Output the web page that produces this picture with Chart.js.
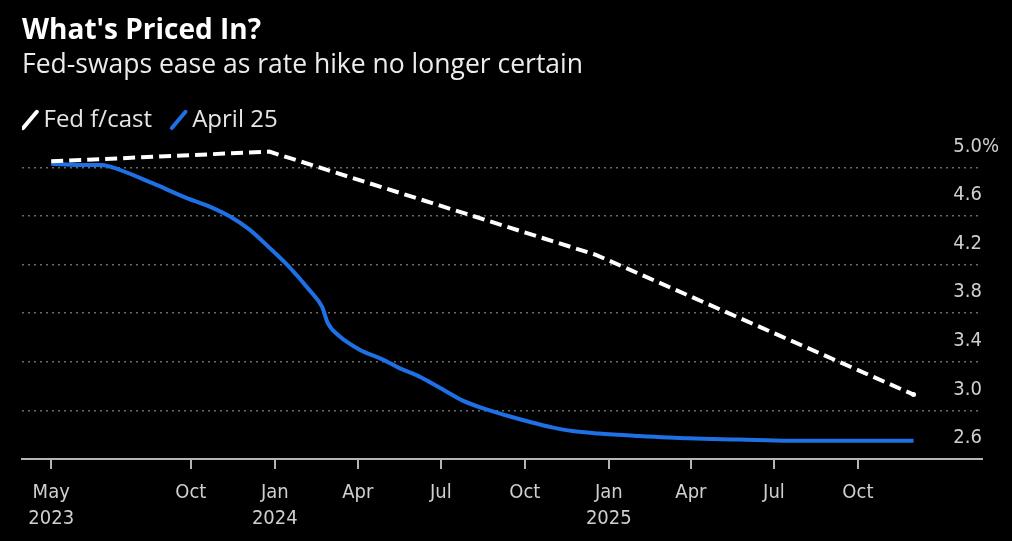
<!DOCTYPE html>
<html>
<head>
<meta charset="utf-8">
<script src="https://cdn.jsdelivr.net/npm/chart.js@4.4.1/dist/chart.umd.min.js"></script>
<style>
  html, body { margin: 0; padding: 0; background: #000; }
  canvas { display: block; }
</style>
</head>
<body>
<canvas id="pricedIn" width="1012" height="541"></canvas>
<script>
// Fed dot-plot path (median projections)
const fedDates = ['2023-05-01', '2023-12-26', '2024-12-18', '2025-12-01'];
const fedRates = [5.05, 5.13, 4.28, 3.13];

// Fed-swaps curve as of April 25
const swapDates = [
  '2023-05-01', '2023-06-01', '2023-06-25', '2023-07-15', '2023-08-20', '2023-09-26',
  '2023-10-21', '2023-11-12', '2023-12-04', '2023-12-26', '2024-01-17', '2024-02-08',
  '2024-02-22', '2024-02-28', '2024-03-12', '2024-04-03', '2024-04-28', '2024-05-16',
  '2024-06-07', '2024-06-29', '2024-07-25', '2024-08-19', '2024-09-10', '2024-10-09',
  '2024-10-31', '2024-11-22', '2024-12-21', '2025-02-03', '2025-03-30', '2025-05-24',
  '2025-07-17', '2025-12-01'
];
const swapRates = [
  5.03, 5.02, 5.02, 4.98, 4.87, 4.75,
  4.68, 4.60, 4.49, 4.34, 4.18, 3.99,
  3.85, 3.72, 3.61, 3.50, 3.42, 3.35,
  3.28, 3.19, 3.08, 3.01, 2.96, 2.90,
  2.86, 2.83, 2.81, 2.79, 2.77, 2.76,
  2.75, 2.75
];

const xTickDates = ['2023-05-01', '2023-10-01', '2024-01-01', '2024-04-01', '2024-07-01',
  '2024-10-01', '2025-01-01', '2025-04-01', '2025-07-01', '2025-10-01'];
const xTickLabels = [['May', '2023'], 'Oct', ['Jan', '2024'], 'Apr', 'Jul', 'Oct',
  ['Jan', '2025'], 'Apr', 'Jul', 'Oct'];
const yTicks = [2.6, 3.0, 3.4, 3.8, 4.2, 4.6, 5.0];

const toDay = s => Date.parse(s) / 864e5;
const toPoints = (dates, values) => dates.map((d, i) => ({ x: toDay(d), y: values[i] }));

const axisFont = { family: "'DejaVu Sans Condensed', 'DejaVu Sans', sans-serif", size: 20, lineHeight: 1.3 };
const axisGray = '#b4b4b4';
const labelGray = '#cfcfcf';

const data = {
  datasets: [{
    label: 'Fed f/cast',
    data: toPoints(fedDates, fedRates),
    borderColor: '#ffffff',
    backgroundColor: '#ffffff',
    borderWidth: 4,
    borderDash: [12, 6],
    pointRadius: ctx => ctx.dataIndex === fedDates.length - 1 ? 2.5 : 0,
    pointBorderWidth: 0
  }, {
    label: 'April 25',
    data: toPoints(swapDates, swapRates),
    borderColor: '#1f6fe5',
    backgroundColor: '#1f6fe5',
    borderWidth: 4,
    pointRadius: 0,
    cubicInterpolationMode: 'monotone'
  }]
};

const config = {
  type: 'line',
  data: data,
  options: {
    responsive: false,
    devicePixelRatio: 1,
    animation: false,
    layout: { padding: { left: 22, right: -4, top: 0, bottom: -2 } },
    plugins: {
      tooltip: { enabled: false },
      title: {
        display: true,
        text: "What's Priced In?",
        align: 'start',
        color: '#ffffff',
        font: { family: "'Open Sans', sans-serif", size: 28, weight: 'bold' },
        padding: { top: 14, bottom: 0 }
      },
      subtitle: {
        display: true,
        text: 'Fed-swaps ease as rate hike no longer certain',
        align: 'start',
        color: '#ececec',
        font: { family: "'Open Sans', sans-serif", size: 26.5 },
        padding: { top: 2, bottom: 20 }
      },
      legend: {
        align: 'start',
        labels: {
          usePointStyle: true,
          boxWidth: 3,
          boxHeight: 15,
          padding: 6.5,
          color: '#e6e6e6',
          font: { family: "'Open Sans', sans-serif", size: 24 },
          // solid slash markers, with a little room after each label
          generateLabels: chart => chart.data.datasets.map((ds, i) => ({
            text: ds.label + '   ',
            fillStyle: ds.borderColor,
            strokeStyle: ds.borderColor,
            fontColor: '#e6e6e6',
            lineWidth: 4,
            lineDash: [],
            lineCap: 'round',
            pointStyle: 'line',
            rotation: -50,
            hidden: false,
            datasetIndex: i
          }))
        }
      }
    },
    scales: {
      x: {
        type: 'linear',
        min: toDay('2023-03-30'),
        max: toDay('2026-02-14'),
        afterBuildTicks: scale => {
          scale.ticks = xTickDates.map(d => ({ value: toDay(d) }));
        },
        ticks: {
          autoSkip: false,
          maxRotation: 0,
          padding: 11,
          color: labelGray,
          font: axisFont,
          callback: (value, index) => xTickLabels[index]
        },
        grid: {
          drawOnChartArea: false,
          drawTicks: true,
          tickLength: 10,
          color: axisGray,
          lineWidth: 2
        },
        border: { display: true, color: axisGray, width: 2 }
      },
      y: {
        position: 'right',
        min: 2.6,
        max: 5.21,
        afterBuildTicks: scale => {
          scale.ticks = yTicks.map(v => ({ value: v }));
        },
        ticks: {
          mirror: true,
          crossAlign: 'far',
          padding: 17,
          labelOffset: -21,
          color: labelGray,
          font: axisFont,
          callback: v => v === 5 ? '5.0%' : v.toFixed(1)
        },
        grid: {
          drawTicks: false,
          color: ctx => ctx.tick && ctx.tick.value === 2.6 ? 'rgba(0,0,0,0)' : '#6a6a6a',
          lineWidth: 1.5
        },
        border: { display: false, dash: [2, 4] }
      }
    }
  }
};

const myChart = new Chart(document.getElementById('pricedIn'), config);
</script>
</body>
</html>
